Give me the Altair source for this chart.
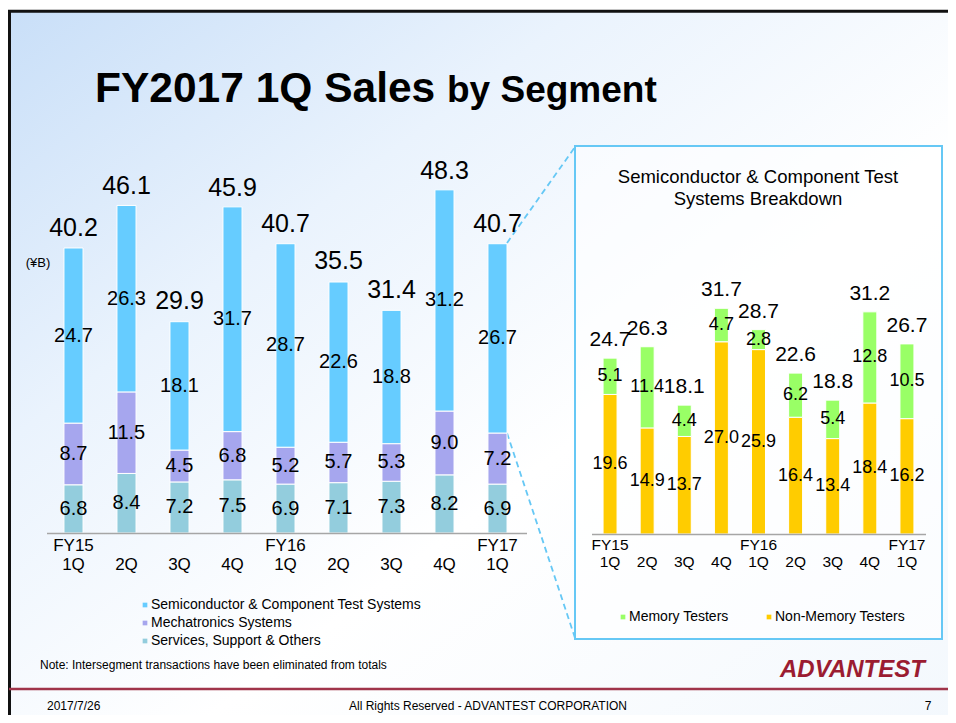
import altair as alt
import pandas as pd

# ---------------- data ----------------
quarter_keys = ["FY15 1Q", "FY15 2Q", "FY15 3Q", "FY15 4Q", "FY16 1Q",
                "FY16 2Q", "FY16 3Q", "FY16 4Q", "FY17 1Q"]
label_line1 = ["FY15", "", "", "", "FY16", "", "", "", "FY17"]
label_line2 = ["1Q", "2Q", "3Q", "4Q", "1Q", "2Q", "3Q", "4Q", "1Q"]

semi_values = [24.7, 26.3, 18.1, 31.7, 28.7, 22.6, 18.8, 31.2, 26.7]
mecha_values = [8.7, 11.5, 4.5, 6.8, 5.2, 5.7, 5.3, 9.0, 7.2]
service_values = [6.8, 8.4, 7.2, 7.5, 6.9, 7.1, 7.3, 8.2, 6.9]
total_values = [40.2, 46.1, 29.9, 45.9, 40.7, 35.5, 31.4, 48.3, 40.7]

nonmemory_values = [19.6, 14.9, 13.7, 27.0, 25.9, 16.4, 13.4, 18.4, 16.2]
memory_values = [5.1, 11.4, 4.4, 4.7, 2.8, 6.2, 5.4, 12.8, 10.5]
semi_total_values = [24.7, 26.3, 18.1, 31.7, 28.7, 22.6, 18.8, 31.2, 26.7]

left_segments = ["Services, Support & Others", "Mechatronics Systems",
                 "Semiconductor & Component Test Systems"]
left_colors = ["#93CDDD", "#A6A6EE", "#66CCFF"]
right_segments = ["Non-Memory Testers", "Memory Testers"]
right_colors = ["#FFCC00", "#99FF66"]

FONT = "Liberation Sans"

# ---------------- tables ----------------
rows = []
for i, q in enumerate(quarter_keys):
    for o, (seg, vals) in enumerate(zip(left_segments, [service_values, mecha_values, semi_values])):
        rows.append({"q": q, "segment": seg, "order": o, "value": vals[i]})
left_df = pd.DataFrame(rows)

rows = []
for i, q in enumerate(quarter_keys):
    for o, (seg, vals) in enumerate(zip(right_segments, [nonmemory_values, memory_values])):
        rows.append({"q": q, "segment": seg, "order": o, "value": vals[i]})
right_df = pd.DataFrame(rows)

left_tot = pd.DataFrame({"q": quarter_keys, "total": total_values,
                         "l1": label_line1, "l2": label_line2})
right_tot = pd.DataFrame({"q": quarter_keys, "total": semi_total_values,
                          "l1": label_line1, "l2": label_line2})

# ---------------- scales (chart coordinates) ----------------
XL = alt.Scale(domain=quarter_keys, range=[39, 516], paddingInner=0.64, paddingOuter=0.32)
YL = alt.Scale(domain=[0, 50], range=[525, 170.5], nice=False, zero=True)
XR = alt.Scale(domain=quarter_keys, range=[583.5, 917.5], paddingInner=0.623, paddingOuter=0.3115)
YR = alt.Scale(domain=[0, 40], range=[526, 241.2], nice=False, zero=True)


def stacked(df):
    return alt.Chart(df).transform_stack(
        stack="value", groupby=["q"],
        sort=[alt.SortField("order", order="ascending")],
        as_=["y0", "y1"]
    ).transform_calculate(mid="(datum.y0 + datum.y1) / 2")


def one(**kw):
    return alt.Chart(pd.DataFrame([kw]))


# ---------------- background ----------------
bg = one(a=1).mark_rect(
    fill=alt.LinearGradient(
        gradient="linear", x1=0, y1=0, x2=1, y2=1,
        stops=[alt.GradientStop(offset=0, color="#C9DFF8"),
               alt.GradientStop(offset=0.3, color="#EAF3FD"),
               alt.GradientStop(offset=0.6, color="#FFFFFF"),
               alt.GradientStop(offset=1, color="#F3F8FD")])
).encode(x=alt.value(3), x2=alt.value(948), y=alt.value(4), y2=alt.value(715))

frame_left = one(a=1).mark_rule(color="#111111", strokeWidth=3).encode(
    x=alt.value(1.5), y=alt.value(2), y2=alt.value(715))
frame_top = one(a=1).mark_rule(color="#111111", strokeWidth=3).encode(
    x=alt.value(0), x2=alt.value(948), y=alt.value(3.3))

# ---------------- title ----------------
title1 = one(t="FY2017 1Q Sales").mark_text(
    font=FONT, fontSize=42.5, fontWeight="bold", align="left", baseline="alphabetic", color="#000000"
).encode(text="t:N", x=alt.value(87), y=alt.value(94))
title2 = one(t="by Segment").mark_text(
    font=FONT, fontSize=37, fontWeight="bold", align="left", baseline="alphabetic", color="#000000"
).encode(text="t:N", x=alt.value(439), y=alt.value(94))

# ---------------- left chart ----------------
left_bars = stacked(left_df).mark_bar(stroke="white", strokeWidth=1).encode(
    x=alt.X("q:N", scale=XL, axis=None),
    y=alt.Y("y0:Q", scale=YL, axis=None),
    y2="y1:Q",
    color=alt.Color("segment:N", scale=alt.Scale(domain=left_segments, range=left_colors), legend=None),
)
left_seg_text = stacked(left_df).mark_text(
    font=FONT, fontSize=20, color="#000000", baseline="middle"
).encode(
    x=alt.X("q:N", scale=XL, axis=None),
    y=alt.Y("mid:Q", scale=YL, axis=None),
    text=alt.Text("value:Q", format=".1f"),
)
left_total_text = alt.Chart(left_tot).mark_text(
    font=FONT, fontSize=25, color="#000000", baseline="middle", dy=-20
).encode(
    x=alt.X("q:N", scale=XL, axis=None),
    y=alt.Y("total:Q", scale=YL, axis=None),
    text=alt.Text("total:Q", format=".1f"),
)
left_l1 = alt.Chart(left_tot).mark_text(font=FONT, fontSize=17, color="#000000", baseline="middle").encode(
    x=alt.X("q:N", scale=XL, axis=None), y=alt.value(538), text="l1:N")
left_l2 = alt.Chart(left_tot).mark_text(font=FONT, fontSize=17, color="#000000", baseline="middle").encode(
    x=alt.X("q:N", scale=XL, axis=None), y=alt.value(557), text="l2:N")
left_base = one(a=1).mark_rule(color="#A6A6A6", strokeWidth=1.5).encode(
    x=alt.value(39), x2=alt.value(519), y=alt.value(525.5))
unit = one(t="(¥B)").mark_text(font=FONT, fontSize=13, color="#000000", baseline="middle").encode(
    text="t:N", x=alt.value(30), y=alt.value(255))

# ---------------- connector + box ----------------
box = one(a=1).mark_rect(fill="#FFFFFF", fillOpacity=0.55, stroke="#66C8F5", strokeWidth=2).encode(
    x=alt.value(567), x2=alt.value(934), y=alt.value(138), y2=alt.value(631))
dash_top = one(a=1).mark_rule(color="#66C8F5", strokeWidth=1.8, strokeDash=[6, 4]).encode(
    x=alt.value(499), y=alt.value(235), x2=alt.value(567), y2=alt.value(139))
dash_bot = one(a=1).mark_rule(color="#66C8F5", strokeWidth=1.8, strokeDash=[6, 4]).encode(
    x=alt.value(499), y=alt.value(425), x2=alt.value(567), y2=alt.value(630))

# ---------------- right chart ----------------
rt1 = one(t="Semiconductor & Component Test").mark_text(
    font=FONT, fontSize=18.5, color="#000000", baseline="middle").encode(
    text="t:N", x=alt.value(750), y=alt.value(169))
rt2 = one(t="Systems Breakdown").mark_text(
    font=FONT, fontSize=18.5, color="#000000", baseline="middle").encode(
    text="t:N", x=alt.value(750), y=alt.value(191))

right_bars = stacked(right_df).mark_bar(stroke="white", strokeWidth=1).encode(
    x=alt.X("q:N", scale=XR, axis=None),
    y=alt.Y("y0:Q", scale=YR, axis=None),
    y2="y1:Q",
    color=alt.Color("segment:N", scale=alt.Scale(domain=right_segments, range=right_colors), legend=None),
)
right_seg_text = stacked(right_df).mark_text(
    font=FONT, fontSize=18, color="#000000", baseline="middle"
).encode(
    x=alt.X("q:N", scale=XR, axis=None),
    y=alt.Y("mid:Q", scale=YR, axis=None),
    text=alt.Text("value:Q", format=".1f"),
)
right_total_text = alt.Chart(right_tot).mark_text(
    font=FONT, fontSize=21, color="#000000", baseline="middle", dy=-18
).encode(
    x=alt.X("q:N", scale=XR, axis=None),
    y=alt.Y("total:Q", scale=YR, axis=None),
    text=alt.Text("total:Q", format=".1f"),
)
right_l1 = alt.Chart(right_tot).mark_text(font=FONT, fontSize=15.5, color="#000000", baseline="middle").encode(
    x=alt.X("q:N", scale=XR, axis=None), y=alt.value(537), text="l1:N")
right_l2 = alt.Chart(right_tot).mark_text(font=FONT, fontSize=15.5, color="#000000", baseline="middle").encode(
    x=alt.X("q:N", scale=XR, axis=None), y=alt.value(554), text="l2:N")
right_base = one(a=1).mark_rule(color="#A6A6A6", strokeWidth=1.5).encode(
    x=alt.value(584), x2=alt.value(918), y=alt.value(526.5))

# ---------------- legends ----------------
def legend_item(label, color, x, y, size):
    sq = one(a=1).mark_square(color=color, size=22, opacity=1).encode(
        x=alt.value(x), y=alt.value(y))
    tx = one(t=label).mark_text(font=FONT, fontSize=size, color="#000000",
                                align="left", baseline="middle").encode(
        text="t:N", x=alt.value(x + 6), y=alt.value(y))
    return [sq, tx]

legend_layers = []
legend_layers += legend_item(left_segments[2], left_colors[2], 137, 597, 14)
legend_layers += legend_item(left_segments[1], left_colors[1], 137, 615, 14)
legend_layers += legend_item(left_segments[0], left_colors[0], 137, 633, 14)
legend_layers += legend_item(right_segments[1], right_colors[1], 615, 609, 14)
legend_layers += legend_item(right_segments[0], right_colors[0], 761, 609, 14)

# ---------------- footer ----------------
note = one(t="Note: Intersegment transactions have been eliminated from totals").mark_text(
    font=FONT, fontSize=12, color="#000000", align="left", baseline="middle").encode(
    text="t:N", x=alt.value(32), y=alt.value(657))
logo = one(t="ADVANTEST").mark_text(
    font=FONT, fontSize=24, fontWeight=900, fontStyle="italic", color="#9B1C31",
    align="left", baseline="middle").encode(text="t:N", x=alt.value(772), y=alt.value(662))
red_line = one(a=1).mark_rule(color="#A0344A", strokeWidth=2.5).encode(
    x=alt.value(1), x2=alt.value(948), y=alt.value(681))
f_date = one(t="2017/7/26").mark_text(font=FONT, fontSize=12, color="#000000",
                                      align="left", baseline="middle").encode(
    text="t:N", x=alt.value(39), y=alt.value(698))
f_mid = one(t="All Rights Reserved - ADVANTEST CORPORATION").mark_text(
    font=FONT, fontSize=12, color="#000000", baseline="middle").encode(
    text="t:N", x=alt.value(480), y=alt.value(698))
f_page = one(t="7").mark_text(font=FONT, fontSize=12, color="#000000", baseline="middle").encode(
    text="t:N", x=alt.value(920), y=alt.value(698))

layers = [bg, frame_left, frame_top, title1, title2,
          box, dash_top, dash_bot,
          left_bars, left_seg_text, left_total_text, left_l1, left_l2, left_base, unit,
          rt1, rt2, right_bars, right_seg_text, right_total_text, right_l1, right_l2, right_base,
          ] + legend_layers + [note, logo, red_line, f_date, f_mid, f_page]

chart = alt.layer(*layers).resolve_scale(
    x="independent", y="independent", color="independent"
).properties(
    width=940, height=707, padding=0,
    autosize=alt.AutoSizeParams(type="none"),
    background="#FFFFFF",
).configure_view(stroke=None)

chart.save("out.html", embed_options={"renderer": "svg", "actions": False})
